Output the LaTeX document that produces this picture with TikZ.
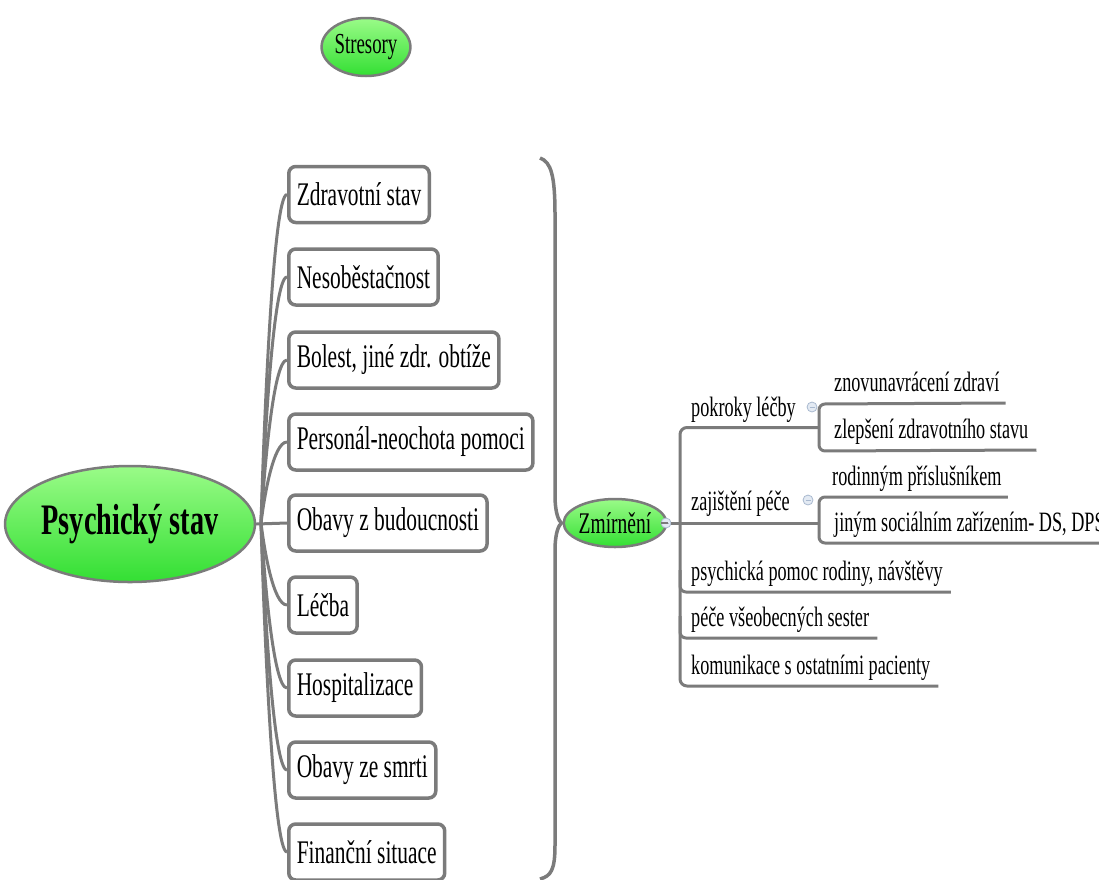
\documentclass[tikz,border=0pt]{standalone}
\usepackage{fontspec}
\setmainfont[FakeStretch=0.65]{Liberation Serif}
\usetikzlibrary{shapes.geometric,calc}
\definecolor{edge}{HTML}{7B7B7B}
\definecolor{greentop}{HTML}{9AFB88}
\definecolor{greenbot}{HTML}{33DF33}
\definecolor{iconfill}{HTML}{E3EAF3}
\definecolor{iconline}{HTML}{A9B9CF}

\begin{document}
\begin{tikzpicture}[x=1pt,y=-1pt,
  bubble/.style={ellipse, draw=edge, line width=2.5pt, top color=greentop, bottom color=greenbot, inner sep=0pt},
  factor/.style={draw=edge, line width=3.5pt, rounded corners=7pt, fill=white, anchor=west,
    minimum height=56pt, inner xsep=8pt, font=\fontsize{33}{36}\selectfont},
  link/.style={draw=edge, line width=3pt},
  leaf/.style={anchor=base west, inner sep=0pt, font=\fontsize{28}{30}\selectfont},
  toggle/.style={circle, draw=iconline, fill=iconfill, line width=0.8pt, minimum size=10pt, inner sep=0pt,
    path picture={\draw[iconline, line width=0.9pt]
      ($(path picture bounding box.west)+(2.5pt,0)$) -- ($(path picture bounding box.east)+(-2.5pt,0)$);}}
]
\useasboundingbox (0,0) rectangle (1099,879);

% central topics
\node[bubble, minimum width=80pt, minimum height=58pt, font=\fontsize{29}{30}\selectfont] (stress) at (366,47) {Stresory};
\node[bubble, minimum width=244pt, minimum height=116pt, font=\fontsize{43.5}{46}\selectfont\bfseries] (root) at (130,524) {Psychický stav};
\node[bubble, minimum width=88pt, minimum height=48pt, font=\fontsize{30}{32}\selectfont] (zm) at (615,523) {Zmírnění};

% stress factors
\node[factor] (f1) at (287,194.5) {Zdravotní stav};
\node[factor] (f2) at (287,277) {Nesoběstačnost};
\node[factor] (f3) at (287,360) {Bolest, jiné zdr. obtíže};
\node[factor] (f4) at (287,442) {Personál-neochota pomoci};
\node[factor] (f5) at (287,523) {Obavy z budoucnosti};
\node[factor] (f6) at (287,605) {Léčba};
\node[factor] (f7) at (287,688) {Hospitalizace};
\node[factor] (f8) at (287,770) {Obavy ze smrti};
\node[factor] (f9) at (287,852) {Finanční situace};

% curved connectors from the root to each factor
\coordinate (hub) at (261,523);
\draw[link] (root.east) -- (f5.west);
\foreach \i in {1,2,3,4,6,7,8,9}{
  \draw[link] (hub) .. controls ($(hub)!0.3!(hub |- f\i.west)+(3,0)$) and ($(f\i.west)+(-14,0)$) .. (f\i.west);
}

% brace gathering the factors
\coordinate (tip) at ($(zm.west)+(-1,0)$);
\draw[link, line width=3.5pt] (540,158) .. controls (551,162) and (555,175) .. (555,215)
  -- (555,495) .. controls (555,514) and (559,521) .. (tip)
  .. controls (559,525) and (555,532) .. (555,551)
  -- (555,845) .. controls (555,870) and (551,876) .. (540,879);

% relief measures
\node[leaf] (pk) at (691,416) {pokroky léčby};
\node[leaf] (zp) at (691,510) {zajištění péče};
\node[leaf] (ps) at (691,580) {psychická pomoc rodiny, návštěvy};
\node[leaf] (pv) at (691,626) {péče všeobecných sester};
\node[leaf] (ko) at (691,674) {komunikace s ostatními pacienty};

\node[leaf] (zn) at (834,391) {znovunavrácení zdraví};
\node[leaf] (zl) at (834,438) {zlepšení zdravotního stavu};
\node[leaf] (ro) at (832,485) {rodinným příslušníkem};
\node[leaf] (ji) at (834,531) {jiným sociálním zařízením- DS, DPS};

\coordinate (tr) at (680,523);
\coordinate (k1) at (819,404);
\coordinate (k2) at (819,451);
\coordinate (k3) at (819,497);
\coordinate (k4) at (819,543);

% trunk with its underlines
\draw[link, rounded corners=7pt] ($(k1)!0.5!(k2)$) -- (680,427.5) -- (680,686) -- ($(ko.base east)+(8,12)$);
\draw[link] (tr) -- (tr -| k3);
\draw[link, rounded corners=6pt] (680,570) -- (680,592) -- ($(ps.base east)+(8,12)$);
\draw[link, rounded corners=6pt] (680,616) -- (680,638) -- ($(pv.base east)+(8,12)$);

% sub-branches
\draw[link, rounded corners=6pt] ($(zn.base east)+(6,12)$) -- (k1) -- (k2) -- ($(zl.base east)+(8,12)$);
\draw[link, rounded corners=6pt] ($(ro.base east)+(6,12)$) -- (k3) -- (k4) -- ($(ji.base east)+(8,12)$);

% collapse toggles
\node[toggle] (t0) at (666,523) {};
\node[toggle] (t1) at (812,407) {};
\node[toggle] (t2) at (808,500) {};
\draw[link, line width=1.5pt] (zm.east) -- (t0.west);
\draw[link] (t0.east) -- (tr);
\end{tikzpicture}
\end{document}
